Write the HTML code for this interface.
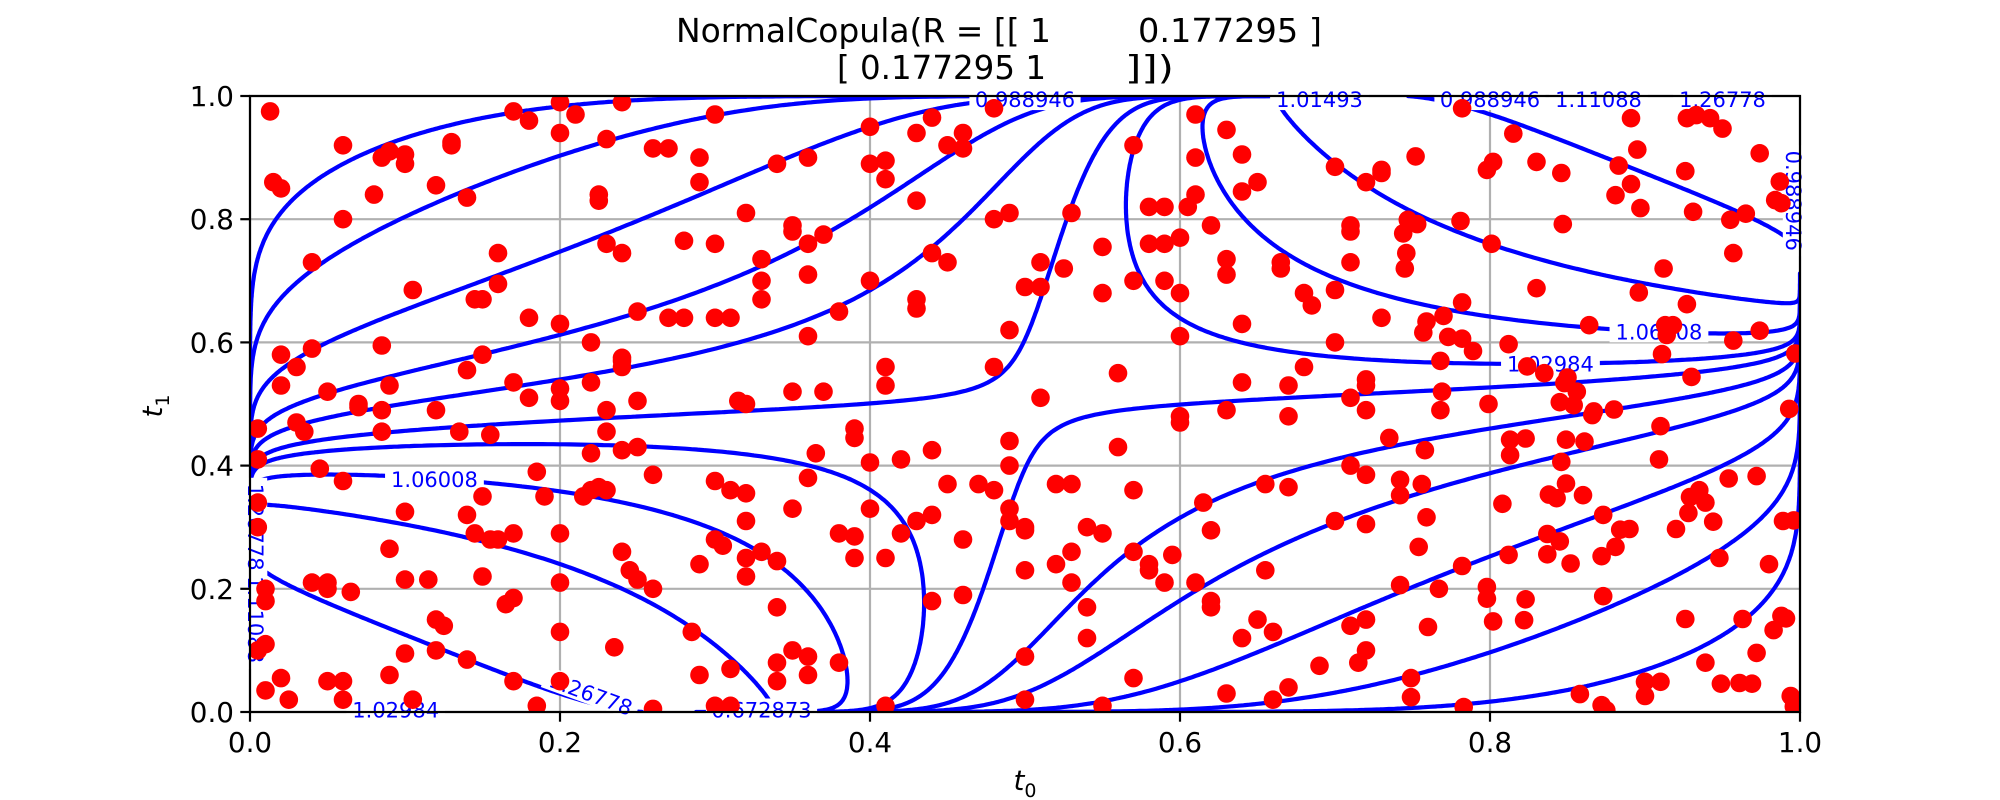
<!DOCTYPE html>
<html><head><meta charset="utf-8"><style>
html,body{margin:0;padding:0;background:#fff;}
svg{display:block;font-family:"DejaVu Sans","Liberation Sans",sans-serif;}
</style></head><body>
<svg id="chart" width="2000" height="800" viewBox="0 0 2000 800" xmlns="http://www.w3.org/2000/svg">
<defs><clipPath id="plotclip"><rect x="250" y="96" width="1550" height="616"/></clipPath></defs>
<rect x="0" y="0" width="2000" height="800" fill="#fff"/>
<g font-size="33.3" fill="#000">
<text x="676" y="42" textLength="375" lengthAdjust="spacingAndGlyphs">NormalCopula(R = [[ 1</text>
<text x="1138" y="42" textLength="184" lengthAdjust="spacingAndGlyphs">0.177295 ]</text>
<text x="837" y="79" textLength="209" lengthAdjust="spacingAndGlyphs">[ 0.177295 1</text>
<text x="1125" y="79" textLength="49" lengthAdjust="spacingAndGlyphs">]])</text>
</g>
<g id="grid"></g>
<g id="contours" clip-path="url(#plotclip)"></g>
<g id="clabels"></g>
<g id="points" clip-path="url(#plotclip)"></g>
<rect x="250" y="96" width="1550" height="616" fill="none" stroke="#000" stroke-width="2.2"/>
<g id="axes"></g>
<text x="1025" y="790" font-size="27.8" text-anchor="middle" font-style="italic">t<tspan font-size="19" dy="7" font-style="normal">0</tspan></text>
<text x="0" y="0" font-size="27.8" text-anchor="middle" font-style="italic" transform="translate(162,406) rotate(-90)">t<tspan font-size="19" dy="7" font-style="normal">1</tspan></text>
</svg>
<script>
const xTicks=[0,0.2,0.4,0.6,0.8,1.0];
const yTicks=[0,0.2,0.4,0.6,0.8,1.0];
const xTickLabels=["0.0","0.2","0.4","0.6","0.8","1.0"];
const yTickLabels=["0.0","0.2","0.4","0.6","0.8","1.0"];
const rho=0.177295;
const levels=[0.672873,0.8,0.9,0.96,0.988946,1.01493,1.02984,1.06008,1.11088,1.26778];
const labelTexts=["1.06008","1.02984","1.06008","1.02984","1.26778","0.672873","0.988946","1.01493","0.988946","1.11088","1.26778","1.11088","1.26778","0.988946"];
const labelU=[0.119,0.839,0.909,0.094,0.22,0.33,0.50,0.69,0.80,0.87,0.95,0.004,0.004,0.996];
const labelV=[0.378,0.566,0.618,0.004,0.03,0.004,0.995,0.995,0.995,0.995,0.995,0.15,0.30,0.83];
const labelRot=[0,0,0,0,20,0,0,0,0,0,0,90,90,90];
const ptsU=[0.013,0.015,0.02,0.06,0.06,0.04,0.085,0.09,0.08,0.10,0.10,0.105,0.12,0.13,0.13,0.14,0.17,0.18,0.2,0.2,0.21,0.23,0.24,0.225,0.225,0.18,0.16,0.16,0.17,0.145,0.15,0.15,0.14,0.2,0.2,0.22,0.22,0.23,0.24,0.25,0.26,0.27,0.27,0.28,0.28,0.29,0.29,0.30,0.3,0.3,0.31,0.32,0.33,0.33,0.33,0.34,0.35,0.35,0.36,0.36,0.36,0.36,0.37,0.38,0.39,0.39,0.4,0.4,0.41,0.41,0.41,0.41,0.4,0.43,0.43,0.43,0.43,0.44,0.44,0.45,0.45,0.46,0.46,0.48,0.48,0.49,0.5,0.51,0.51,0.49,0.48,
0.005,0.02,0.02,0.03,0.04,0.05,0.03,0.035,0.07,0.07,0.085,0.09,0.085,0.085,0.12,0.135,0.155,0.18,0.2,0.24,0.24,0.24,0.25,0.23,0.23,0.24,0.25,0.23,0.22,0.22,0.215,0.225,0.26,0.24,0.245,0.25,0.26,0.2,0.2,0.19,0.185,0.17,0.16,0.155,0.145,0.14,0.15,0.15,0.165,0.17,0.17,0.185,0.2,0.2,0.235,0.12,0.125,0.12,0.115,0.1,0.09,0.1,0.06,0.045,0.04,0.05,0.05,0.065,0.01,0.01,0.01,0.005,0.01,0.02,0.025,0.05,0.06,0.06,0.09,0.1,0.105,0.14,0.005,0.005,0.005,0.26,0.285,0.29,0.3,0.305,0.29,0.3,0.31,0.31,0.32,0.32,0.32,0.3,0.31,0.32,0.32,0.315,0.33,0.34,0.34,0.34,0.34,0.35,0.35,0.36,0.36,0.36,0.365,0.35,0.37,0.38,0.38,0.39,0.39,0.40,0.40,0.41,0.41,0.42,0.42,0.43,0.44,0.44,0.44,0.45,0.46,0.46,0.47,0.48,0.49,0.49,0.49,0.49,0.5,0.5,0.5,0.5,0.5,0.51,0.52,0.52,0.53,0.53,0.53,0.525,0.53,0.54,0.54,0.54,0.55,0.55,0.55,0.55,0.56,0.56,0.57,0.57,0.57,0.57,0.57,0.58,0.58,0.58,0.58,0.59,0.59,0.59,0.59,0.595,0.6,0.6,0.6,0.6,0.6,0.605,0.61,0.61,0.61,0.61,0.62,0.615,0.62,0.62,0.62,0.63,0.63,0.63,0.63,0.63,0.64,0.64,0.64,0.64,0.64,0.65,0.65,0.655,0.655,0.66,0.66,0.67,0.67,0.67,0.665,0.665,0.67,0.68,0.68,0.685,0.69,0.7,0.7,0.7,0.7,0.71,0.71,0.71,0.71,0.71,0.71,0.715,0.72,0.72,0.72,0.72,0.72,0.72,0.72,0.72,0.73,0.73,0.73,0.735,
0.782,0.815,0.752,0.798,0.802,0.830,0.846,0.891,0.895,0.883,0.891,0.881,0.897,0.927,0.933,0.942,0.950,0.974,0.926,0.931,0.987,0.984,0.988,0.955,0.965,0.957,0.781,0.801,0.847,0.747,0.753,0.744,0.746,0.745,0.912,0.830,0.896,0.927,0.782,0.770,0.759,0.757,0.773,0.782,0.789,0.812,0.864,0.913,0.918,0.914,0.974,0.957,0.911,0.997,0.768,0.824,0.835,0.850,0.848,0.856,0.930,0.769,0.799,0.768,0.845,0.854,0.880,0.867,0.993,
0.866,0.910,0.758,0.813,0.823,0.813,0.849,0.861,0.846,0.909,0.756,0.742,0.742,0.849,0.838,0.843,0.860,0.808,0.873,0.954,0.972,0.935,0.929,0.939,0.928,0.944,0.920,0.989,0.996,0.759,0.837,0.845,0.837,0.812,0.852,0.884,0.890,0.881,0.872,0.948,0.980,0.754,0.782,0.742,0.767,0.798,0.798,0.823,0.873,0.802,0.822,0.760,0.926,0.963,0.988,0.991,0.983,0.972,0.939,0.749,0.749,0.900,0.910,0.900,0.858,0.783,0.872,0.875,0.949,0.961,0.969,0.994,0.996];
const ptsV=[0.975,0.86,0.85,0.92,0.80,0.73,0.90,0.91,0.84,0.905,0.89,0.685,0.855,0.925,0.92,0.835,0.975,0.96,0.99,0.94,0.97,0.93,0.99,0.84,0.83,0.64,0.745,0.695,0.535,0.67,0.67,0.58,0.555,0.63,0.525,0.535,0.6,0.76,0.745,0.65,0.915,0.915,0.64,0.64,0.765,0.86,0.90,0.97,0.76,0.64,0.64,0.81,0.735,0.70,0.67,0.89,0.78,0.79,0.90,0.71,0.76,0.61,0.775,0.65,0.46,0.445,0.89,0.95,0.865,0.53,0.56,0.895,0.70,0.94,0.67,0.655,0.83,0.965,0.745,0.92,0.73,0.94,0.915,0.98,0.80,0.81,0.69,0.73,0.69,0.62,0.56,
0.46,0.58,0.53,0.56,0.59,0.52,0.47,0.455,0.50,0.495,0.595,0.53,0.49,0.455,0.49,0.455,0.45,0.51,0.505,0.575,0.57,0.56,0.505,0.49,0.455,0.425,0.43,0.36,0.36,0.42,0.35,0.365,0.385,0.26,0.23,0.215,0.20,0.29,0.21,0.35,0.39,0.29,0.28,0.28,0.29,0.32,0.35,0.22,0.175,0.185,0.05,0.01,0.13,0.05,0.105,0.15,0.14,0.10,0.215,0.215,0.265,0.325,0.375,0.395,0.21,0.21,0.20,0.195,0.2,0.18,0.11,0.10,0.035,0.055,0.02,0.05,0.05,0.02,0.06,0.095,0.02,0.085,0.41,0.34,0.3,0.005,0.13,0.24,0.28,0.27,0.06,0.01,0.07,0.01,0.22,0.25,0.31,0.375,0.36,0.355,0.5,0.505,0.26,0.245,0.17,0.08,0.05,0.33,0.10,0.09,0.06,0.38,0.42,0.52,0.52,0.08,0.29,0.285,0.25,0.33,0.405,0.25,0.01,0.29,0.41,0.31,0.32,0.425,0.18,0.37,0.19,0.28,0.37,0.36,0.44,0.40,0.33,0.31,0.295,0.30,0.09,0.02,0.23,0.51,0.37,0.24,0.37,0.26,0.81,0.72,0.21,0.12,0.17,0.30,0.29,0.68,0.755,0.01,0.43,0.55,0.36,0.26,0.055,0.70,0.92,0.24,0.23,0.76,0.82,0.70,0.82,0.76,0.21,0.255,0.68,0.61,0.77,0.47,0.48,0.82,0.9,0.21,0.97,0.84,0.79,0.34,0.295,0.18,0.17,0.03,0.49,0.945,0.735,0.71,0.905,0.845,0.535,0.63,0.12,0.15,0.86,0.23,0.37,0.02,0.13,0.04,0.48,0.53,0.72,0.73,0.365,0.56,0.68,0.66,0.075,0.31,0.60,0.885,0.685,0.79,0.78,0.73,0.51,0.40,0.14,0.08,0.15,0.385,0.54,0.53,0.49,0.86,0.305,0.10,0.64,0.88,0.875,0.445,
0.980,0.939,0.902,0.880,0.893,0.893,0.875,0.964,0.913,0.887,0.857,0.839,0.818,0.964,0.969,0.964,0.947,0.907,0.878,0.812,0.861,0.831,0.826,0.799,0.809,0.745,0.797,0.760,0.792,0.799,0.792,0.777,0.745,0.720,0.720,0.688,0.681,0.662,0.665,0.643,0.634,0.616,0.609,0.606,0.586,0.597,0.628,0.628,0.628,0.612,0.619,0.603,0.581,0.582,0.570,0.561,0.550,0.543,0.534,0.520,0.544,0.520,0.500,0.490,0.503,0.498,0.491,0.488,0.492,
0.482,0.464,0.425,0.442,0.444,0.417,0.442,0.439,0.406,0.410,0.370,0.377,0.352,0.371,0.353,0.347,0.352,0.338,0.320,0.379,0.383,0.360,0.349,0.340,0.323,0.309,0.297,0.310,0.311,0.316,0.289,0.277,0.256,0.255,0.241,0.296,0.297,0.268,0.253,0.250,0.240,0.268,0.237,0.206,0.200,0.203,0.184,0.183,0.188,0.147,0.149,0.138,0.151,0.151,0.156,0.152,0.133,0.096,0.080,0.055,0.024,0.049,0.049,0.026,0.029,0.008,0.011,0.003,0.046,0.047,0.046,0.026,0.009];

const NS='http://www.w3.org/2000/svg';
const X0=250,X1=1800,Y0=712,Y1=96;
function sx(u){return X0+(X1-X0)*u;}
function sy(v){return Y0-(Y0-Y1)*v;}
function mk(tag,attrs,parent){const e=document.createElementNS(NS,tag);for(const k in attrs)e.setAttribute(k,attrs[k]);parent.appendChild(e);return e;}

const grid=document.getElementById('grid'),axes=document.getElementById('axes');
xTicks.forEach((t,i)=>{
  const gl=mk('line',{x1:sx(t),x2:sx(t),y1:Y1,y2:Y0,stroke:'#b0b0b0','stroke-width':2.2},grid);
  
  
  const tk=mk('line',{x1:sx(t),x2:sx(t),y1:Y0,y2:Y0+9.7,stroke:'#000','stroke-width':2.2},axes);
  
  
  const tl=mk('text',{x:sx(t),y:Y0+40,'font-size':27.8,'text-anchor':'middle'},axes);
  tl.textContent=xTickLabels[i];
  
  
});
yTicks.forEach((t,i)=>{
  const gl=mk('line',{x1:X0,x2:X1,y1:sy(t),y2:sy(t),stroke:'#b0b0b0','stroke-width':2.2},grid);
  
  
  const tk=mk('line',{x1:X0-9.7,x2:X0,y1:sy(t),y2:sy(t),stroke:'#000','stroke-width':2.2},axes);
  
  
  const tl=mk('text',{x:X0-16,y:sy(t)+10,'font-size':27.8,'text-anchor':'end'},axes);
  tl.textContent=yTickLabels[i];
  
  
});

function ndtri(p){
  const a=[-39.69683028665376,220.9460984245205,-275.9285104469687,138.3577518672690,-30.66479806614716,2.506628277459239];
  const b=[-54.47609879822406,161.5858368580409,-155.6989798598866,66.80131188771972,-13.28068155288572];
  const c=[-0.007784894002430293,-0.3223964580411365,-2.400758277161838,-2.549732539343734,4.374664141464968,2.938163982698783];
  const d=[0.007784695709041462,0.3224671290700398,2.445134137142996,3.754408661907416];
  const pl=0.02425;let q,r;
  if(p<pl){q=Math.sqrt(-2*Math.log(p));return (((((c[0]*q+c[1])*q+c[2])*q+c[3])*q+c[4])*q+c[5])/((((d[0]*q+d[1])*q+d[2])*q+d[3])*q+1);}
  if(p>1-pl){q=Math.sqrt(-2*Math.log(1-p));return -(((((c[0]*q+c[1])*q+c[2])*q+c[3])*q+c[4])*q+c[5])/((((d[0]*q+d[1])*q+d[2])*q+d[3])*q+1);}
  q=p-0.5;r=q*q;return (((((a[0]*r+a[1])*r+a[2])*r+a[3])*r+a[4])*r+a[5])*q/(((((b[0]*r+b[1])*r+b[2])*r+b[3])*r+b[4])*r+1);
}
function dens(u,v){const a=ndtri(u),b=ndtri(v),r2=rho*rho;
  return Math.exp(-(r2*(a*a+b*b)-2*rho*a*b)/(2*(1-r2)))/Math.sqrt(1-r2);}

const N=360;const ts=[];
for(let i=0;i<=N;i++){let t=0.5-0.5*Math.cos(Math.PI*i/N);ts.push(Math.min(1-1e-7,Math.max(1e-7,t)));}
const Z=[];for(let j=0;j<=N;j++){const row=[];for(let i=0;i<=N;i++)row.push(dens(ts[i],ts[j]));Z.push(row);}
const cg=document.getElementById('contours');
levels.forEach(L=>{
  let d='';
  function ip(x0,y0,z0,x1,y1,z1){const t=(L-z0)/(z1-z0);return [x0+(x1-x0)*t,y0+(y1-y0)*t];}
  for(let j=0;j<N;j++)for(let i=0;i<N;i++){
    const u0=ts[i],u1=ts[i+1],v0=ts[j],v1=ts[j+1];
    const z00=Z[j][i],z10=Z[j][i+1],z11=Z[j+1][i+1],z01=Z[j+1][i];
    const c=(z00>L?1:0)|(z10>L?2:0)|(z11>L?4:0)|(z01>L?8:0);
    if(c===0||c===15)continue;
    const eB=()=>ip(u0,v0,z00,u1,v0,z10),eR=()=>ip(u1,v0,z10,u1,v1,z11),eT=()=>ip(u0,v1,z01,u1,v1,z11),eL=()=>ip(u0,v0,z00,u0,v1,z01);
    let segs=[];
    switch(c){
      case 1:case 14:segs=[[eL(),eB()]];break;
      case 2:case 13:segs=[[eB(),eR()]];break;
      case 3:case 12:segs=[[eL(),eR()]];break;
      case 4:case 11:segs=[[eR(),eT()]];break;
      case 6:case 9:segs=[[eB(),eT()]];break;
      case 7:case 8:segs=[[eL(),eT()]];break;
      case 5:segs=[[eL(),eT()],[eB(),eR()]];break;
      case 10:segs=[[eL(),eB()],[eR(),eT()]];break;
    }
    segs.forEach(s=>{d+='M'+sx(s[0][0]).toFixed(1)+' '+sy(s[0][1]).toFixed(1)+'L'+sx(s[1][0]).toFixed(1)+' '+sy(s[1][1]).toFixed(1);});
  }
  const p=mk('path',{d:d,fill:'none',stroke:'#0000ff','stroke-width':4.2,'stroke-linecap':'round'},cg);
  
  
});

const lg=document.getElementById('clabels');
labelTexts.forEach((s,i)=>{
  const x=sx(labelU[i]),y=sy(labelV[i]);
  const g=mk('g',{transform:'translate('+x+','+y+') rotate('+labelRot[i]+')'},lg);
  
  
  const w=s.length*12.4;
  mk('rect',{x:-w/2-6,y:-11,width:w+12,height:22,fill:'#fff'},g);
  const t=mk('text',{x:0,y:8,'font-size':21,'text-anchor':'middle',fill:'#0000ff'},g);
  t.textContent=s;
});

const pg=document.getElementById('points');
for(let i=0;i<ptsU.length;i++){
  const c=mk('circle',{cx:sx(ptsU[i]).toFixed(1),cy:sy(ptsV[i]).toFixed(1),r:9.3,fill:'#ff0000'},pg);
  
  
}
</script>
</body></html>
